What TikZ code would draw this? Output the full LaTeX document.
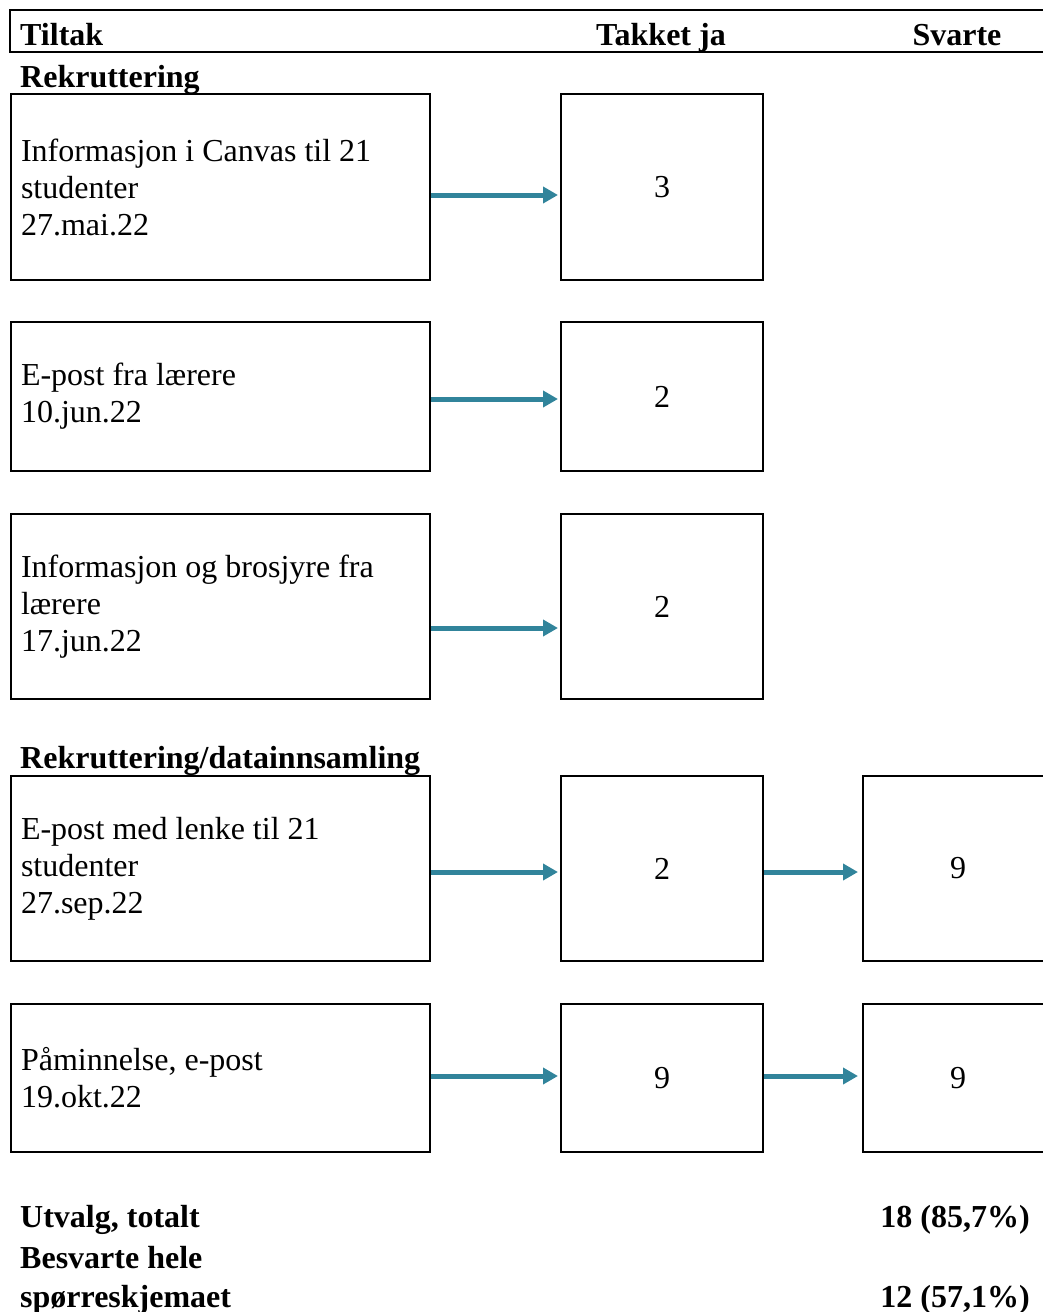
\documentclass[tikz,border=0pt]{standalone}
\usepackage{fontspec}
\setmainfont{Liberation Serif}
\usetikzlibrary{arrows.meta}
\usetikzlibrary{positioning}
\definecolor{pilfarge}{HTML}{31849B}

\begin{document}
\begin{tikzpicture}[x=1pt,y=-1pt,
font=\fontsize{32}{37}\selectfont,
tiltak/.style={draw,line width=2pt,anchor=north west,inner sep=10pt,
  text width=399pt,minimum height=#1,align=flush left},
tall/.style={draw,line width=2pt,anchor=north west,inner sep=0pt,
  minimum width=202pt,minimum height=#1},
svar/.style={draw,line width=2pt,anchor=north west,inner sep=0pt,
  minimum width=190pt,minimum height=#1},
pil/.style={draw=pilfarge,line width=5pt,-{Triangle[length=15pt,width=16pt]}},
overskrift/.style={font=\fontsize{32}{37}\selectfont\bfseries,inner sep=0pt}
]
\useasboundingbox (0,0) rectangle (1042,1312);
% header
\draw[line width=2pt] (1060,10) -- (10,10) -- (10,52) -- (1060,52);
\node[overskrift,anchor=base west] (h1) at (20,45) {Tiltak};
\node[overskrift,anchor=base] (h2) at (661,45) {Takket ja};
\node[overskrift,anchor=base] (h3) at (957,45) {Svarte};
\node[overskrift,anchor=base west] (r1) at (20,87) {Rekruttering};
% rekruttering
\node[tiltak=186pt] (t1) at (10,93) {Informasjon i Canvas til 21\\studenter\\27.mai.22};
\node[tall=186pt] (k1) at (560,93) {3};
\node[tiltak=149pt] (t2) at (10,321) {E-post fra lærere\\10.jun.22};
\node[tall=149pt] (k2) at (560,321) {2};
\node[tiltak=185pt] (t3) at (10,513) {Informasjon og brosjyre fra\\lærere\\17.jun.22};
\node[tall=185pt] (k3) at (560,513) {2};
\draw[pil] ([yshift=-8pt]t1.east) -- ([yshift=-8pt,xshift=-2pt]k1.west);
\draw[pil] ([yshift=-2.5pt]t2.east) -- ([yshift=-2.5pt,xshift=-2pt]k2.west);
\draw[pil] ([yshift=-21.5pt]t3.east) -- ([yshift=-21.5pt,xshift=-2pt]k3.west);
% rekruttering/datainnsamling
\node[overskrift,anchor=base west] (r2) at (20,768) {Rekruttering/datainnsamling};
\node[tiltak=185pt] (t4) at (10,775) {E-post med lenke til 21\\studenter\\27.sep.22};
\node[tall=185pt] (k4) at (560,775) {2};
\node[svar=185pt] (s4) at (862,775) {9};
\node[tiltak=148pt] (t5) at (10,1003) {Påminnelse, e-post\\19.okt.22};
\node[tall=148pt] (k5) at (560,1003) {9};
\node[svar=148pt] (s5) at (862,1003) {9};
\draw[pil] ([yshift=-3.5pt]t4.east) -- ([yshift=-3.5pt,xshift=-2pt]k4.west);
\draw[pil] ([yshift=-3.5pt]k4.east) -- ([yshift=-3.5pt,xshift=-4pt]s4.west);
\draw[pil] ([yshift=2pt]t5.east) -- ([yshift=2pt,xshift=-2pt]k5.west);
\draw[pil] ([yshift=2pt]k5.east) -- ([yshift=2pt,xshift=-4pt]s5.west);
% totalt
\node[overskrift,anchor=base west] (u1) at (20,1227) {Utvalg, totalt};
\node[overskrift,anchor=base east] (u2) at (1030,1227) {18 (85,7\%)};
\node[overskrift,anchor=base west,align=left] (b1) at (20,1268) {Besvarte hele};
\node[overskrift,anchor=base west] (b2) at (20,1307) {spørreskjemaet};
\node[overskrift,anchor=base east] (b3) at (1030,1307) {12 (57,1\%)};
\end{tikzpicture}
\end{document}
